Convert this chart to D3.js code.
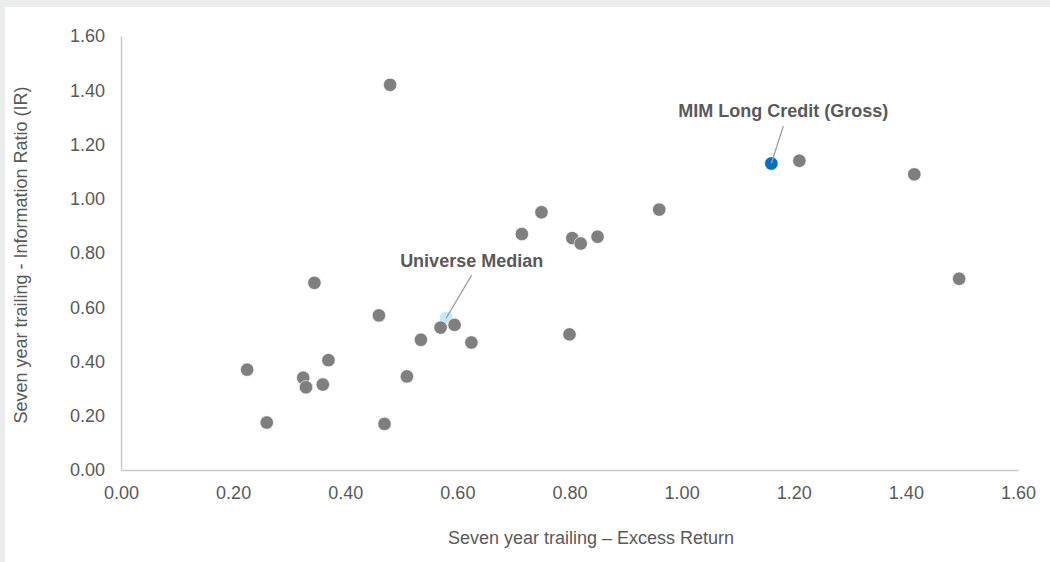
<!DOCTYPE html>
<html>
<head>
<meta charset="utf-8">
<script src="https://cdn.jsdelivr.net/npm/d3@7"></script>
<style>
  html, body { margin: 0; padding: 0; background: #ebedec; }
  svg { display: block; }
  text { font-family: Arial, "Liberation Sans", sans-serif; }
</style>
</head>
<body>
<svg id="chart" width="1050" height="562"></svg>
<script>
// ---- data ----
const peerExcessReturn = [0.48, 0.345, 0.46, 0.57, 0.595, 0.535, 0.625, 0.225, 0.37, 0.325, 0.33, 0.36, 0.51, 0.26, 0.47, 0.75, 0.715, 0.805, 0.82, 0.85, 0.96, 0.80, 1.21, 1.415, 1.495];
const peerInfoRatio    = [1.42, 0.69, 0.57, 0.525, 0.535, 0.48, 0.47, 0.37, 0.405, 0.34, 0.305, 0.315, 0.345, 0.175, 0.17, 0.95, 0.87, 0.855, 0.835, 0.86, 0.96, 0.50, 1.14, 1.09, 0.705];
const medianPoint = [0.58, 0.56];
const mimPoint = [1.16, 1.13];
const labels = ["Universe Median", "MIM Long Credit (Gross)"];
const xTicks = [0, 0.2, 0.4, 0.6, 0.8, 1.0, 1.2, 1.4, 1.6];
const yTicks = [0, 0.2, 0.4, 0.6, 0.8, 1.0, 1.2, 1.4, 1.6];
const xTitle = "Seven year trailing \u2013 Excess Return";
const yTitle = "Seven year trailing - Information Ratio (IR)";

// ---- drawing ----
const svg = d3.select("#chart");
svg.append("rect").attr("x", 5).attr("y", 7).attr("width", 1045).attr("height", 555).attr("fill", "#ffffff");

const x = d3.scaleLinear().domain([0, 1.6]).range([121, 1018]);
const y = d3.scaleLinear().domain([0, 1.6]).range([470, 36]);

const textColor = "#595959";
const axisColor = "#c9c9c9";

const xAxis = svg.append("g").attr("transform", "translate(0,470)")
  .call(d3.axisBottom(x).tickValues(xTicks).tickSize(0).tickPadding(16).tickFormat(d3.format(".2f")));
const yAxis = svg.append("g").attr("transform", "translate(121,0)")
  .call(d3.axisLeft(y).tickValues(yTicks).tickSize(0).tickPadding(16).tickFormat(d3.format(".2f")));

[xAxis, yAxis].forEach(g => {
  g.select(".domain").attr("stroke", axisColor).attr("stroke-width", 1.5);
  g.selectAll(".tick text").attr("fill", textColor).style("font-size", "18px")
    .style("font-family", "Arial, 'Liberation Sans', sans-serif");
});

svg.append("text").attr("x", 591).attr("y", 544).attr("text-anchor", "middle")
  .attr("fill", textColor).style("font-size", "18px").text(xTitle);
svg.append("text").attr("transform", "translate(26.5,255) rotate(-90)").attr("text-anchor", "middle")
  .attr("fill", textColor).style("font-size", "18px").text(yTitle);

const R = 6.7;
// median (drawn beneath peers)
svg.append("circle").attr("cx", x(medianPoint[0])).attr("cy", y(medianPoint[1])).attr("r", R)
  .attr("fill", "#c3e6f8");

// peers
const peers = peerExcessReturn.map((v, i) => [v, peerInfoRatio[i]]);
svg.append("g").selectAll("circle").data(peers).join("circle")
  .attr("cx", d => x(d[0])).attr("cy", d => y(d[1])).attr("r", R)
  .attr("fill", "#7f7f7f").attr("stroke", "#ffffff").attr("stroke-width", 0.6);

// MIM
svg.append("circle").attr("cx", x(mimPoint[0])).attr("cy", y(mimPoint[1])).attr("r", R)
  .attr("fill", "#0070c0").attr("stroke", "#ffffff").attr("stroke-width", 0.6);

// leader lines & labels
const ann = [
  { p: medianPoint, dx: 25.5, dy: -43, text: labels[0] },
  { p: mimPoint, dx: 12, dy: -37.5, text: labels[1] }
];
ann.forEach(a => {
  const px = x(a.p[0]), py = y(a.p[1]);
  svg.append("line").attr("x1", px + a.dx).attr("y1", py + a.dy).attr("x2", px).attr("y2", py)
    .attr("stroke", "#a0a0a0").attr("stroke-width", 1.3);
  svg.append("text").attr("x", px + a.dx).attr("y", py + a.dy - 8.5).attr("text-anchor", "middle")
    .attr("fill", textColor).style("font-size", "18px").style("font-weight", "bold").text(a.text);
});
</script>
</body>
</html>
